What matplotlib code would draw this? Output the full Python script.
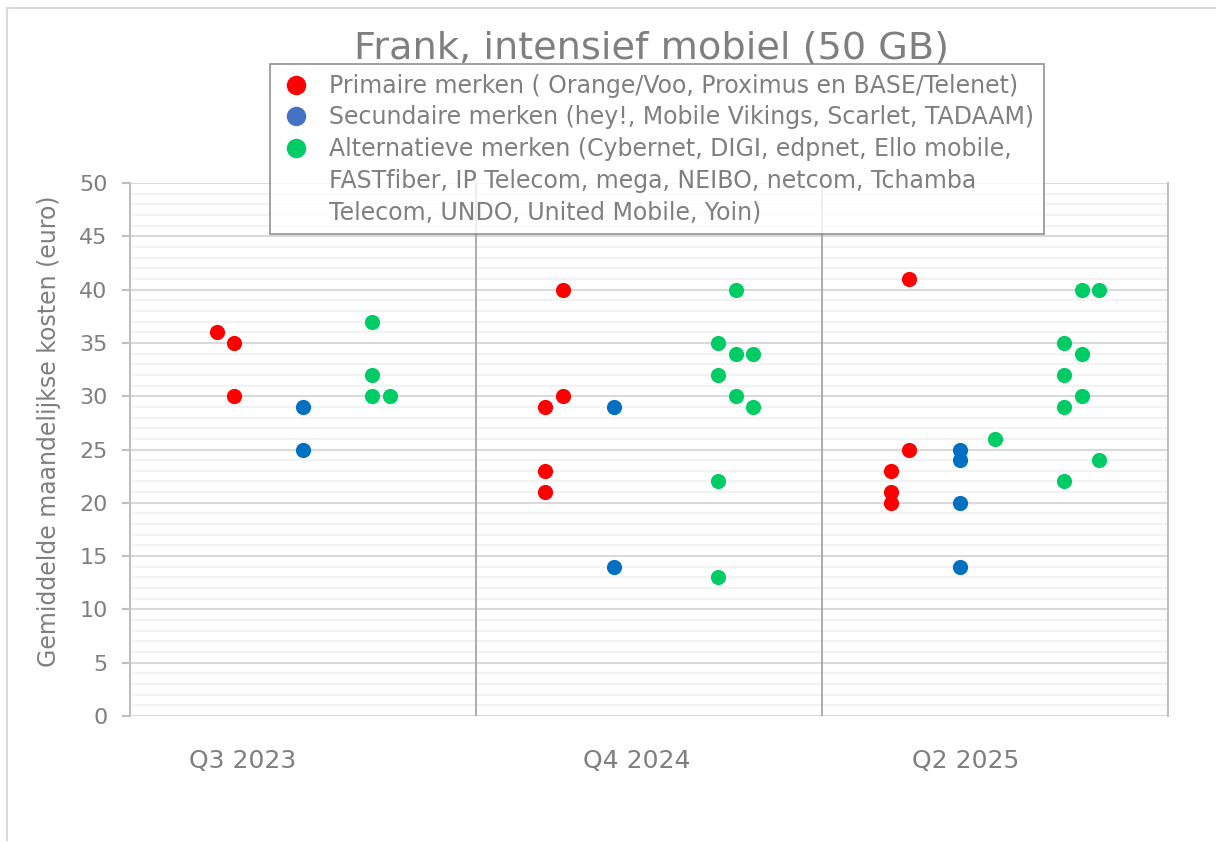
import matplotlib
matplotlib.use("Agg")
import matplotlib.pyplot as plt
from matplotlib.lines import Line2D
from matplotlib.ticker import MultipleLocator

plt.rcParams['font.family'] = ['DejaVu Sans']

# data: x is the position within the 0..60 category band, y is monthly cost (euro)
primaire_x = [5, 6, 6, 25, 25, 24, 24, 24, 45, 45, 44, 44, 44]
primaire_y = [36, 35, 30, 40, 30, 29, 23, 21, 41, 25, 23, 21, 20]

secundaire_x = [10, 10, 28, 28, 48, 48, 48, 48]
secundaire_y = [29, 25, 29, 14, 25, 24, 20, 14]

alternatief_x = [14, 14, 14, 15,
                 35, 34, 35, 36, 34, 35, 36, 34, 34,
                 55, 56, 54, 55, 54, 55, 54, 50, 56, 54]
alternatief_y = [37, 32, 30, 30,
                 40, 35, 34, 34, 32, 30, 29, 22, 13,
                 40, 40, 35, 34, 32, 30, 29, 26, 24, 22]

kwartalen = ["Q3 2023", "Q4 2024", "Q2 2025"]
kwartaal_pos = [6.5, 29.3, 48.3]
grenzen = [20, 40]

labels = ["Primaire merken ( Orange/Voo, Proximus en BASE/Telenet)",
          "Secundaire merken (hey!, Mobile Vikings, Scarlet, TADAAM)",
          "Alternatieve merken (Cybernet, DIGI, edpnet, Ello mobile,",
          "FASTfiber, IP Telecom, mega, NEIBO, netcom, Tchamba",
          "Telecom, UNDO, United Mobile, Yoin)"]

grey = '#7F7F7F'
red = '#FF0000'
blue = '#0070C0'
green = '#00CC66'

fig = plt.figure(figsize=(12.16, 8.43), dpi=100)
ax = fig.add_axes([130/1216, 1 - 716/843, 1038/1216, 533/843])

ax.scatter(primaire_x, primaire_y, s=120, color=red, zorder=3, linewidths=0)
ax.scatter(secundaire_x, secundaire_y, s=120, color=blue, zorder=3, linewidths=0)
ax.scatter(alternatief_x, alternatief_y, s=120, color=green, zorder=3, linewidths=0)

for g in grenzen:
    ax.axvline(g, color='#A6A6A6', lw=1.3, zorder=2)

ax.set_xlim(0, 60)
ax.set_ylim(0, 50)
ax.yaxis.set_major_locator(MultipleLocator(5))
ax.yaxis.set_minor_locator(MultipleLocator(1))
ax.grid(axis='y', which='major', color='#D9D9D9', lw=1.5, zorder=1)
ax.grid(axis='y', which='minor', color='#F2F2F2', lw=1.5, zorder=0)
ax.set_axisbelow(True)

for s in ['top', 'bottom']:
    ax.spines[s].set_visible(False)
ax.spines['left'].set_color('#BFBFBF')
ax.spines['left'].set_linewidth(1.5)
ax.spines['right'].set_color('#BFBFBF')
ax.spines['right'].set_linewidth(1.5)

ax.tick_params(axis='y', which='major', length=6, width=1.5, color='#BFBFBF',
               labelsize=16, labelcolor=grey, pad=10)
ax.tick_params(axis='y', which='minor', length=0)
ax.set_xticks(kwartaal_pos)
ax.set_xticklabels(kwartalen)
ax.tick_params(axis='x', length=0, labelsize=18, labelcolor=grey, pad=24)

ax.set_ylabel("Gemiddelde maandelijkse kosten (euro)", fontsize=17, color=grey)
ax.yaxis.set_label_coords(-0.066, 0.535)

fig.text(652/1216, 1 - 58/843, "Frank, intensief mobiel (50 GB)", fontsize=27.5,
         color=grey, ha='center', va='baseline')

legend_colors = [red, '#4472C4', green, None, None]
handles = []
for c in legend_colors:
    if c is None:
        handles.append(Line2D([], [], linestyle='none'))
    else:
        handles.append(Line2D([], [], linestyle='none', marker='o', markersize=14,
                              markerfacecolor=c, markeredgewidth=0))
leg = fig.legend(handles, labels, loc='upper left',
                 bbox_to_anchor=(270/1216, 1 - 64/843), borderaxespad=0,
                 fontsize=17, frameon=True, fancybox=False, borderpad=0.42,
                 handlelength=1.4, handletextpad=0.68, labelspacing=0.32,
                 labelcolor=grey)
leg.get_frame().set_edgecolor('#808080')
leg.get_frame().set_linewidth(1.3)
leg.set_zorder(5)

# outer chart frame
fig.add_artist(Line2D([7/1216, 7/1216], [3/843, 1 - 8/843], color='#D9D9D9', lw=1.5))
fig.add_artist(Line2D([7/1216, 1], [1 - 8/843, 1 - 8/843], color='#D9D9D9', lw=1.5))

fig.savefig("out.png", dpi=100)
